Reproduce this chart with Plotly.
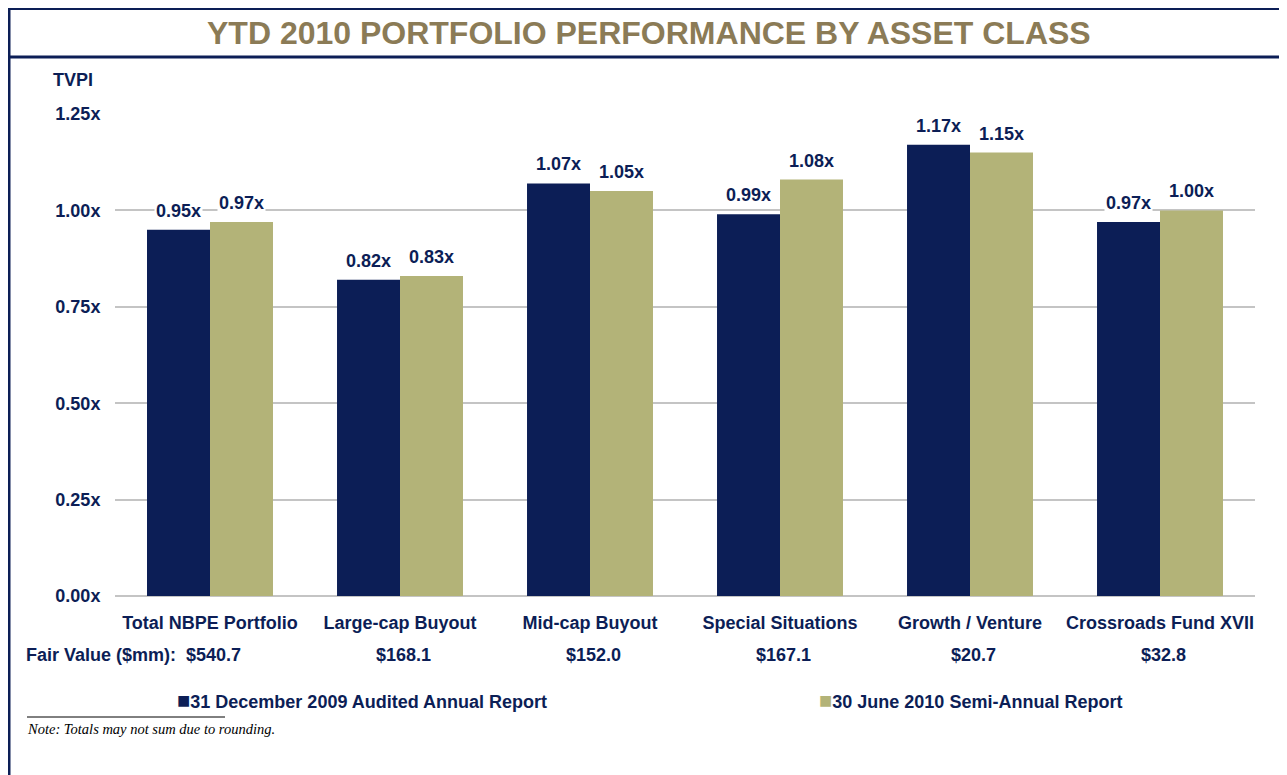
import plotly.graph_objects as go

# data
categories = ["Total NBPE Portfolio", "Large-cap Buyout", "Mid-cap Buyout",
              "Special Situations", "Growth / Venture", "Crossroads Fund XVII"]
fair_values = ["$540.7", "$168.1", "$152.0", "$167.1", "$20.7", "$32.8"]
dec_2009 = [0.95, 0.82, 1.07, 0.99, 1.17, 0.97]
jun_2010 = [0.97, 0.83, 1.05, 1.08, 1.15, 1.00]
series_names = ["31 December 2009 Audited Annual Report",
                "30 June 2010 Semi-Annual Report"]

NAVY = "#0C1E56"
OLIVE = "#B3B378"
TITLE_COLOR = "#8B7B56"
FONT = "Liberation Sans, Arial, sans-serif"

# the page body has an 8px margin, so work in page pixels and shift
OFF = 8
W, H = 1287 - OFF, 775 - OFF
PL, PR, PT, PB = 115, 1255, 114, 596  # plot area in page pixels
L, T = PL - OFF, PT - OFF
R, B = W - (PR - OFF), H - (PB - OFF)
PW = PR - PL
PH = PB - PT


def px_x(p):
    return (p - PL) / PW


def px_y(p):
    return (PB - p) / PH


def page_text(x, y, text, size=18, xanchor="left", color=NAVY, family=FONT):
    fig.add_annotation(x=px_x(x), y=px_y(y), xref="paper", yref="paper",
                       text=text, xanchor=xanchor, yanchor="middle",
                       showarrow=False,
                       font=dict(family=family, size=size, color=color))


fig = go.Figure()
fig.add_trace(go.Bar(x=categories, y=dec_2009, name=series_names[0],
                     marker_color=NAVY, marker_line_width=0))
fig.add_trace(go.Bar(x=categories, y=jun_2010, name=series_names[1],
                     marker_color=OLIVE, marker_line_width=0))

# value labels over the bars
for vals, shift in [(dec_2009, -31.5), (jun_2010, 31.5)]:
    for cat, v in zip(categories, vals):
        fig.add_annotation(x=cat, y=v, text="<b>%.2fx</b>" % v,
                           xshift=shift, yshift=7, yanchor="bottom",
                           showarrow=False, bgcolor="white", borderpad=1,
                           font=dict(family=FONT, size=18, color=NAVY))

# fair value row
page_text(24, 655, "<b>Fair Value ($mm):</b>")
for cat, fv in zip(categories, fair_values):
    fig.add_annotation(x=cat, y=px_y(655), yref="paper", text="<b>%s</b>" % fv,
                       xshift=3, yanchor="middle", showarrow=False,
                       font=dict(family=FONT, size=18, color=NAVY))

# legend drawn as text
for name, col, xp in [(series_names[0], NAVY, 175), (series_names[1], OLIVE, 817)]:
    page_text(xp, 700,
              "<span style='color:%s;font-size:22px'>■</span><b>%s</b>" % (col, name))

# axis title, page title, note
page_text(51, 80, "<b>TVPI</b>")
page_text(649, 33, "<b>YTD 2010 PORTFOLIO PERFORMANCE BY ASSET CLASS</b>",
          size=32, xanchor="center", color=TITLE_COLOR)
page_text(25, 729, "<i>Note: Totals may not sum due to rounding.</i>",
          size=14.5, color="black",
          family="Liberation Serif, Times New Roman, serif")

# frame lines
line_style = dict(color=NAVY, width=3)
fig.add_shape(type="line", xref="paper", yref="paper",
              x0=px_x(OFF), x1=px_x(1290), y0=px_y(OFF + 0.5), y1=px_y(OFF + 0.5),
              line=line_style)
fig.add_shape(type="line", xref="paper", yref="paper",
              x0=px_x(OFF), x1=px_x(1290), y0=px_y(57), y1=px_y(57), line=line_style)
fig.add_shape(type="line", xref="paper", yref="paper",
              x0=px_x(OFF + 1), x1=px_x(OFF + 1), y0=px_y(OFF), y1=px_y(780),
              line=line_style)
fig.add_shape(type="line", xref="paper", yref="paper",
              x0=px_x(27), x1=px_x(225), y0=px_y(717), y1=px_y(717),
              line=dict(color="black", width=1))

fig.update_layout(
    width=W, height=H,
    margin=dict(l=L, r=R, t=T, b=B),
    paper_bgcolor="white", plot_bgcolor="white",
    barmode="group", bargap=0.337, bargroupgap=0,
    showlegend=False,
    font=dict(family=FONT, color=NAVY),
)
fig.update_xaxes(tickfont=dict(family=FONT, size=18, color=NAVY),
                 tickprefix="<b>", ticksuffix="</b>",
                 ticks="outside", ticklen=10, tickcolor="rgba(0,0,0,0)",
                 showline=False, showgrid=False)
fig.update_yaxes(range=[0, 1.25], dtick=0.25, tickformat=".2f",
                 ticksuffix="x</b>", tickprefix="<b>",
                 tickfont=dict(family=FONT, size=18, color=NAVY),
                 ticks="outside", ticklen=10, tickcolor="rgba(0,0,0,0)",
                 showgrid=True, gridcolor="#C4C4C4", gridwidth=2,
                 zeroline=True, zerolinecolor="#C4C4C4", zerolinewidth=2,
                 showline=False)

fig.write_html("out.html")
